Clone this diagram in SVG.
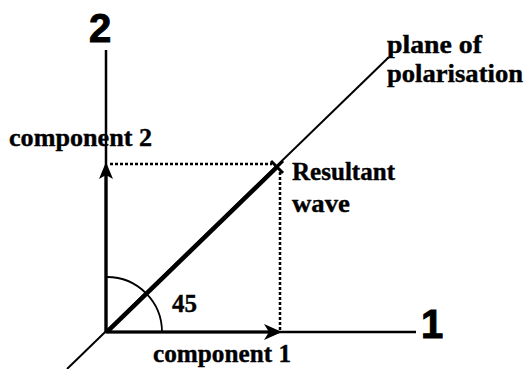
<svg xmlns="http://www.w3.org/2000/svg" width="525" height="369" viewBox="0 0 525 369">
  <style>
    .lbl { font-family: "Liberation Serif", "Times New Roman", serif; font-weight: bold; font-size: 26px; fill: #000; stroke: #000; stroke-width: 0.4; }
    .ax { font-family: "Liberation Sans", Arial, sans-serif; font-weight: bold; font-size: 40px; fill: #000; stroke: #000; stroke-width: 1; }
    .line { stroke: #000; fill: none; stroke-linecap: butt; }
    .dot { stroke: #000; fill: none; stroke-width: 2.5; stroke-dasharray: 3 2; }
    .head { fill: #000; stroke: none; }
  </style>
  <rect width="525" height="369" fill="#fff"/>
  <g id="connectors">
    <!-- axes -->
    <line class="line" x1="106" y1="50" x2="106" y2="333" stroke-width="2.5"/>
    <line class="line" x1="105" y1="332" x2="416" y2="332" stroke-width="2.5"/>
    <!-- plane of polarisation -->
    <line class="line" x1="67" y1="369" x2="389" y2="57" stroke-width="2"/>
    <!-- component 2 arrow -->
    <line class="line" x1="106" y1="332" x2="106" y2="172" stroke-width="3.2"/>
    <path class="head" d="M106,162 L113,179 L106,175 L99,179 Z"/>
    <!-- component 1 arrow -->
    <line class="line" x1="106" y1="332" x2="272" y2="332" stroke-width="3"/>
    <path class="head" d="M282,332 L264,324 L269,332 L264,340 Z"/>
    <!-- resultant -->
    <line class="line" x1="107" y1="332" x2="277" y2="167" stroke-width="4.5"/>
    <path class="line" d="M271,161 L283,173 M283,161 L271,173" stroke-width="3"/>
    <!-- dotted projections -->
    <line class="dot" x1="110" y1="164" x2="272" y2="164"/>
    <line class="dot" x1="280" y1="172" x2="280" y2="330"/>
    <!-- angle arc -->
    <path class="line" d="M162,332 A55,55 0 0 0 107,277" stroke-width="1.8"/>
  </g>
  <g id="axis2"><text class="ax" x="89" y="42">2</text></g>
  <g id="axis1"><text class="ax" x="421" y="338">1</text></g>
  <g id="label-component2"><text class="lbl" x="9" y="146" textLength="143" lengthAdjust="spacingAndGlyphs">component 2</text></g>
  <g id="label-component1"><text class="lbl" x="153" y="362" textLength="138" lengthAdjust="spacingAndGlyphs">component 1</text></g>
  <g id="label-resultant">
    <text class="lbl" x="292" y="180" textLength="103" lengthAdjust="spacingAndGlyphs">Resultant</text>
    <text class="lbl" x="292" y="212" textLength="58" lengthAdjust="spacingAndGlyphs">wave</text>
  </g>
  <g id="label-plane">
    <text class="lbl" x="387" y="53" textLength="95" lengthAdjust="spacingAndGlyphs">plane of</text>
    <text class="lbl" x="387" y="82" textLength="136" lengthAdjust="spacingAndGlyphs">polarisation</text>
  </g>
  <g id="label-angle"><text class="lbl" x="172" y="312" textLength="25" lengthAdjust="spacingAndGlyphs">45</text></g>
</svg>
